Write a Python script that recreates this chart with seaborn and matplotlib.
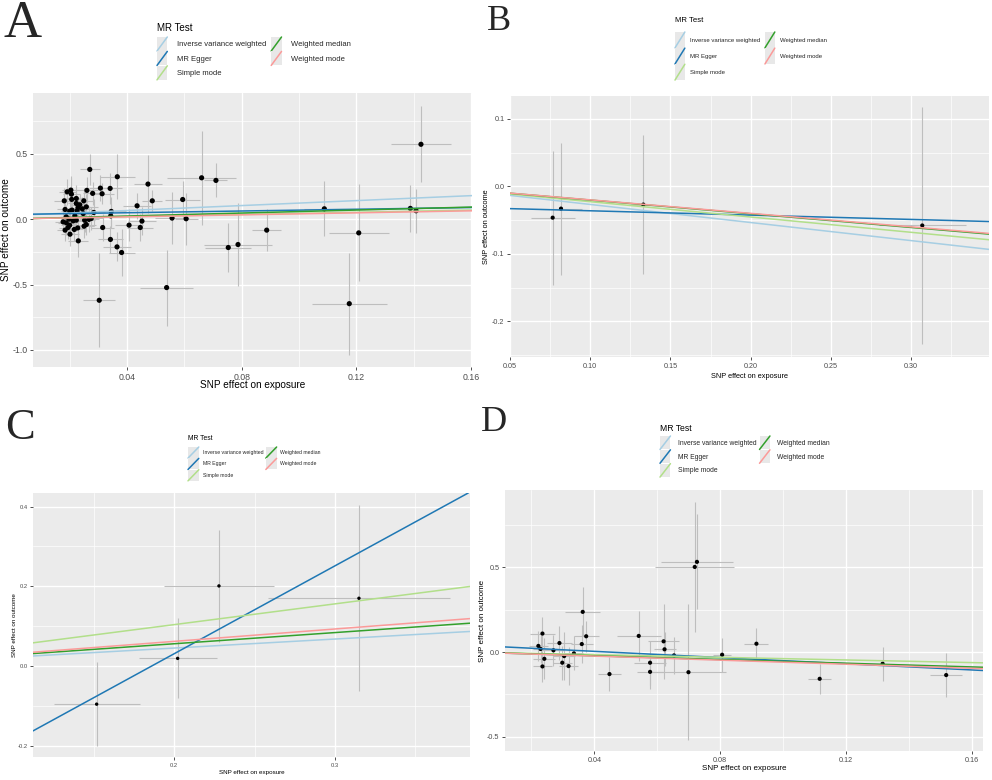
import numpy as np
import pandas as pd
import matplotlib
matplotlib.use("Agg")
import matplotlib.pyplot as plt
import seaborn as sns
from matplotlib.legend_handler import HandlerBase
from matplotlib.patches import Rectangle
from matplotlib.lines import Line2D
from matplotlib.ticker import FixedLocator

sns.set_theme(style="darkgrid")
plt.rcParams.update({
    "font.family": ["Liberation Sans", "DejaVu Sans"],
    "axes.unicode_minus": False,
    "axes.facecolor": "#EBEBEB",
    "grid.color": "white",
})

# ---------------- data ----------------
methods = ["Inverse variance weighted", "MR Egger", "Simple mode",
           "Weighted median", "Weighted mode"]
method_colors = ["#a6cee3", "#1f78b4", "#b2df8a", "#33a02c", "#fb9a99"]
legend_title = "MR Test"

# Panel A
a_bx = [0.0270, 0.0366, 0.0473, 0.0488, 0.0307, 0.0341, 0.0260, 0.0280, 0.0313, 0.0191,
        0.0204, 0.0206, 0.0181, 0.0207, 0.0223, 0.0223, 0.0249, 0.0235, 0.0184, 0.0200,
        0.0208, 0.0226, 0.0229, 0.0244, 0.0258, 0.0247, 0.0218, 0.0188, 0.0284, 0.0345,
        0.0343, 0.0435, 0.0198, 0.0212, 0.0177, 0.0188, 0.0223, 0.0252, 0.0267, 0.0275,
        0.0258, 0.0250, 0.0228, 0.0216, 0.0200, 0.0194, 0.0184, 0.0201, 0.0230, 0.0315,
        0.0407, 0.0446, 0.0452, 0.0342, 0.0365, 0.0381, 0.0303, 0.0538, 0.0557, 0.0594,
        0.0606, 0.0660, 0.0710, 0.0753, 0.0787, 0.0887, 0.1088, 0.1208, 0.1175, 0.1388,
        0.1408, 0.1425]
a_by = [0.380, 0.324, 0.268, 0.140, 0.237, 0.235, 0.220, 0.197, 0.194, 0.209,
        0.222, 0.191, 0.140, 0.151, 0.158, 0.120, 0.140, 0.110, 0.074, 0.061,
        0.069, 0.064, 0.087, 0.079, 0.094, 0.043, 0.025, 0.018, 0.051, 0.059,
        0.025, 0.102, 0.000, -0.013, -0.021, -0.028, -0.008, -0.008, -0.002, 0.005,
        -0.041, -0.054, -0.067, -0.079, -0.046, -0.064, -0.084, -0.115, -0.166, -0.064,
        -0.046, -0.064, -0.015, -0.155, -0.212, -0.255, -0.620, -0.523, 0.008, 0.150,
        0.003, 0.316, 0.296, -0.217, -0.194, -0.084, 0.079, -0.105, -0.646, 0.082,
        0.064, 0.572]
a_sex = [0.0035, 0.0060, 0.0050, 0.0035, 0.0040, 0.0040, 0.0040, 0.0035, 0.0040, 0.0030,
         0.0030, 0.0030, 0.0035, 0.0030, 0.0035, 0.0030, 0.0035, 0.0030, 0.0030, 0.0030,
         0.0035, 0.0030, 0.0030, 0.0035, 0.0040, 0.0035, 0.0030, 0.0030, 0.0040, 0.0050,
         0.0045, 0.0050, 0.0030, 0.0030, 0.0030, 0.0030, 0.0035, 0.0035, 0.0035, 0.0040,
         0.0035, 0.0035, 0.0030, 0.0030, 0.0030, 0.0030, 0.0030, 0.0030, 0.0035, 0.0040,
         0.0050, 0.0045, 0.0050, 0.0045, 0.0050, 0.0045, 0.0055, 0.0093, 0.0060, 0.0060,
         0.0040, 0.0120, 0.0040, 0.0080, 0.0120, 0.0050, 0.0070, 0.0105, 0.0130, 0.0040,
         0.0040, 0.0106]
a_sey = [0.12, 0.17, 0.22, 0.08, 0.10, 0.12, 0.10, 0.09, 0.08, 0.10,
         0.11, 0.12, 0.10, 0.09, 0.10, 0.09, 0.10, 0.08, 0.09, 0.08,
         0.10, 0.09, 0.08, 0.09, 0.10, 0.09, 0.08, 0.09, 0.10, 0.11,
         0.09, 0.10, 0.08, 0.09, 0.08, 0.09, 0.08, 0.09, 0.10, 0.09,
         0.08, 0.09, 0.08, 0.09, 0.08, 0.09, 0.08, 0.09, 0.12, 0.10,
         0.12, 0.10, 0.11, 0.10, 0.11, 0.18, 0.36, 0.29, 0.20, 0.14,
         0.20, 0.36, 0.13, 0.19, 0.32, 0.16, 0.21, 0.37, 0.39, 0.18,
         0.17, 0.29]
a_slopes = [0.947, 0.333, 0.42, 0.57, 0.385]
a_intercepts = [0.028, 0.0356, 0.002, 0.001, 0.002]

# Panel B
b_bx = [0.0766, 0.0818, 0.1331, 0.3070]
b_by = [-0.0464, -0.0330, -0.0270, -0.0580]
b_sex = [0.0138, 0.0133, 0.0080, 0.0270]
b_sey = [0.0995, 0.0980, 0.1030, 0.1755]
b_slopes = [-0.268, -0.064, -0.227, -0.203, -0.200]
b_intercepts = [0.0, -0.0298, 0.0, 0.0, 0.0]

# Panel C
c_bx = [0.1517, 0.2021, 0.2278, 0.3149]
c_by = [-0.0955, 0.0193, 0.2010, 0.1700]
c_sex = [0.0268, 0.0243, 0.0343, 0.0567]
c_sey = [0.106, 0.100, 0.141, 0.233]
c_slopes = [0.226, 2.203, 0.52, 0.28, 0.31]
c_intercepts = [0.0, -0.4095, 0.0, 0.0, 0.0]

# Panel D
d_bx = [0.0222, 0.0229, 0.0235, 0.0235, 0.0241, 0.0270, 0.0289, 0.0298, 0.0304, 0.0318,
        0.0335, 0.0360, 0.0363, 0.0374, 0.0448, 0.0541, 0.0577, 0.0577, 0.0620, 0.0623,
        0.0653, 0.0699, 0.0719, 0.0726, 0.0806, 0.0915, 0.1116, 0.1316, 0.1518]
d_by = [0.036, 0.018, 0.109, -0.085, -0.040, 0.010, 0.053, -0.063, -0.024, -0.083,
        -0.008, 0.047, 0.237, 0.093, -0.130, 0.095, -0.063, -0.117, 0.063, 0.016,
        -0.020, -0.119, 0.502, 0.532, -0.016, 0.049, -0.158, -0.069, -0.136]
d_sex = [0.0030, 0.0025, 0.0040, 0.0030, 0.0035, 0.0035, 0.0040, 0.0030, 0.0035, 0.0030,
         0.0030, 0.0035, 0.0055, 0.0040, 0.0038, 0.0070, 0.0050, 0.0040, 0.0050, 0.0035,
         0.0025, 0.0120, 0.0125, 0.0115, 0.0028, 0.0038, 0.0036, 0.0020, 0.0050]
d_sey = [0.09, 0.08, 0.10, 0.09, 0.12, 0.09, 0.10, 0.10, 0.14, 0.11,
         0.10, 0.11, 0.145, 0.09, 0.10, 0.15, 0.13, 0.10, 0.22, 0.10,
         0.11, 0.40, 0.385, 0.28, 0.10, 0.095, 0.09, 0.10, 0.13]
d_slopes = [-0.57, -0.915, -0.39, -0.55, -0.60]
d_intercepts = [0.0, 0.0406, 0.0, 0.0, 0.0]

# ---------------- helpers ----------------
W, H = 992, 780


def rect(l, t, r, b):
    return [l / W, 1 - b / H, (r - l) / W, (b - t) / H]


class DiagKey(HandlerBase):
    def create_artists(self, legend, orig_handle, xdescent, ydescent,
                       width, height, fontsize, trans):
        bg = Rectangle((-xdescent, -ydescent), width, height,
                       facecolor="#E8E8E8", edgecolor="none", transform=trans)
        ln = Line2D([-xdescent, -xdescent + width], [-ydescent, -ydescent + height],
                    color=orig_handle.get_color(), lw=orig_handle.get_linewidth(),
                    transform=trans)
        return [bg, ln]


def draw_panel(ax, bx, by, sex, sey, slopes, intercepts, xlim, ylim,
               xticks, xticklabels, yticks, yticklabels, xminor, yminor,
               tick_fs, lab_fs, ms, ylab_x, xlab_y, lw=1.1):
    df = pd.DataFrame({"bx": bx, "by": by, "sex": sex, "sey": sey})
    ax.errorbar(df["bx"], df["by"], yerr=df["sey"], fmt="none",
                ecolor="#BEBEBE", elinewidth=0.8, zorder=2)
    ax.errorbar(df["bx"], df["by"], xerr=df["sex"], fmt="none",
                ecolor="#BEBEBE", elinewidth=0.8, zorder=2)
    sns.scatterplot(data=df, x="bx", y="by", ax=ax, color="black", s=ms,
                    edgecolor="none", linewidth=0, zorder=3, legend=False)
    for s, i, c in zip(slopes, intercepts, method_colors):
        ax.axline((0, i), slope=s, color=c, lw=lw, zorder=4)
    ax.set_xlim(*xlim)
    ax.set_ylim(*ylim)
    ax.xaxis.set_major_locator(FixedLocator(xticks))
    ax.set_xticklabels(xticklabels)
    ax.yaxis.set_major_locator(FixedLocator(yticks))
    ax.set_yticklabels(yticklabels)
    ax.xaxis.set_minor_locator(FixedLocator(xminor))
    ax.yaxis.set_minor_locator(FixedLocator(yminor))
    ax.grid(which="major", color="white", lw=1.0)
    ax.grid(which="minor", color="white", lw=0.5)
    ax.set_axisbelow(True)
    for sp in ax.spines.values():
        sp.set_visible(False)
    ax.tick_params(which="major", bottom=True, left=True, length=2.5, width=0.6,
                   color="#333333", labelsize=tick_fs, labelcolor="#4D4D4D", pad=1.5)
    ax.tick_params(which="minor", length=0)
    ax.set_xlabel("SNP effect on exposure", fontsize=lab_fs, color="black")
    ax.set_ylabel("SNP effect on outcome", fontsize=lab_fs, color="black")
    ax.xaxis.set_label_coords(0.5, xlab_y)
    ax.yaxis.set_label_coords(ylab_x, 0.5)


def add_legend(fig, ax, x, y, title_y, title_fs, fs, hl, hh, tpad, cspace, lspace, lw=1.1):
    handles = [Line2D([], [], color=c, lw=lw) for c in method_colors]
    leg = ax.legend(handles, methods, ncol=2,
                    loc="upper left", bbox_to_anchor=(x / W, 1 - y / H),
                    bbox_transform=fig.transFigure, frameon=False,
                    fontsize=fs, handler_map={Line2D: DiagKey()},
                    handlelength=hl, handleheight=hh, handletextpad=tpad,
                    columnspacing=cspace, labelspacing=lspace, borderpad=0,
                    borderaxespad=0)
    fig.text(x / W, 1 - title_y / H, legend_title, fontsize=title_fs,
             ha="left", va="center", color="black")
    return leg


fig = plt.figure(figsize=(9.92, 7.8), dpi=100)

# Panel A
axA = fig.add_axes(rect(33, 93, 472, 367))
draw_panel(axA, a_bx, a_by, a_sex, a_sey, a_slopes, a_intercepts,
           (0.0072, 0.1603), (-1.13, 0.964),
           [0.04, 0.08, 0.12, 0.16], ["0.04", "0.08", "0.12", "0.16"],
           [-1.0, -0.5, 0.0, 0.5], ["-1.0", "-0.5", "0.0", "0.5"],
           [0.02, 0.06, 0.10, 0.14], [-0.75, -0.25, 0.25, 0.75],
           tick_fs=6.3, lab_fs=7.2, ms=14, ylab_x=-0.049, xlab_y=-0.047)
add_legend(fig, axA, 157, 37, 28, 7.0, 5.5, 1.35, 2.45, 1.3, 0.6, 0.05)

# Panel B
axB = fig.add_axes(rect(510, 96, 989, 357))
draw_panel(axB, b_bx, b_by, b_sex, b_sey, b_slopes, b_intercepts,
           (0.05, 0.3486), (-0.253, 0.134),
           [0.05, 0.10, 0.15, 0.20, 0.25, 0.30],
           ["0.05", "0.10", "0.15", "0.20", "0.25", "0.30"],
           [-0.2, -0.1, 0.0, 0.1], ["-0.2", "-0.1", "0.0", "0.1"],
           [0.075, 0.125, 0.175, 0.225, 0.275, 0.325], [-0.25, -0.15, -0.05, 0.05],
           tick_fs=5.2, lab_fs=5.3, ms=9, ylab_x=-0.041, xlab_y=-0.061)
add_legend(fig, axB, 675, 32, 21, 5.6, 4.3, 1.65, 3.7, 0.85, 0.8, 0.05)

# Panel C
axC = fig.add_axes(rect(33, 493, 470, 757))
draw_panel(axC, c_bx, c_by, c_sex, c_sey, c_slopes, c_intercepts,
           (0.1121, 0.384), (-0.228, 0.434),
           [0.2, 0.3], ["0.2", "0.3"],
           [-0.2, 0.0, 0.2, 0.4], ["-0.2", "0.0", "0.2", "0.4"],
           [0.15, 0.25, 0.35], [-0.1, 0.1, 0.3],
           tick_fs=4.2, lab_fs=4.5, ms=6, ylab_x=-0.036, xlab_y=-0.049)
add_legend(fig, axC, 188, 447, 439, 4.9, 3.7, 2.1, 2.95, 0.75, 0.5, 0.05)

# Panel D
axD = fig.add_axes(rect(505, 490, 983, 751))
draw_panel(axD, d_bx, d_by, d_sex, d_sey, d_slopes, d_intercepts,
           (0.0116, 0.1635), (-0.584, 0.956),
           [0.04, 0.08, 0.12, 0.16], ["0.04", "0.08", "0.12", "0.16"],
           [-0.5, 0.0, 0.5], ["-0.5", "0.0", "0.5"],
           [0.02, 0.06, 0.10, 0.14], [-0.25, 0.25, 0.75],
           tick_fs=5.2, lab_fs=5.8, ms=9, ylab_x=-0.040, xlab_y=-0.054)
add_legend(fig, axD, 660, 436, 428, 6.2, 4.85, 1.55, 2.7, 1.1, 0.45, 0.05)

# Panel letters
serif = ["Liberation Serif", "DejaVu Serif"]
fig.text(23 / W, 1 - 24 / H, "A", family=serif, fontsize=38, ha="center", va="center")
fig.text(499 / W, 1 - 21 / H, "B", family=serif, fontsize=26, ha="center", va="center")
fig.text(20 / W, 1 - 428 / H, "C", family=serif, fontsize=32, ha="center", va="center")
fig.text(494 / W, 1 - 423 / H, "D", family=serif, fontsize=26, ha="center", va="center")

fig.savefig("out.png", dpi=100)
